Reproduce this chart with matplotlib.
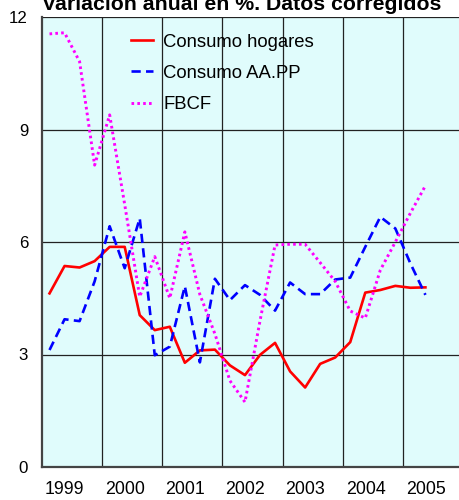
import matplotlib.pyplot as plt
import numpy as np

plt.rcParams['font.family'] = ['Liberation Sans', 'DejaVu Sans']

# trimestral, 1999T1 .. 2005T2
years = [1999, 2000, 2001, 2002, 2003, 2004, 2005]
hogares = [4.63, 5.36, 5.32, 5.49, 5.87, 5.87, 4.05, 3.65,
           3.74, 2.78, 3.11, 3.13, 2.71, 2.45, 2.99, 3.31,
           2.55, 2.12, 2.75, 2.92, 3.33, 4.65, 4.72, 4.83,
           4.78, 4.79]
aapp = [3.12, 3.94, 3.89, 4.95, 6.42, 5.30, 6.63, 2.98,
        3.21, 4.82, 2.79, 5.02, 4.45, 4.85, 4.59, 4.17,
        4.92, 4.61, 4.61, 5.00, 5.05, 5.87, 6.67, 6.36,
        5.43, 4.59]
fbcf = [11.55, 11.58, 10.81, 8.05, 9.39, 7.00, 4.54, 5.61,
        4.50, 6.27, 4.60, 3.55, 2.30, 1.73, 3.90, 5.92,
        5.94, 5.94, 5.45, 4.95, 4.16, 3.97, 5.25, 6.00,
        6.77, 7.50]

t = np.array([1999 + (i + 0.5) / 4 for i in range(len(hogares))])

fig = plt.figure(figsize=(4.59, 5.0), dpi=100)
ax = fig.add_axes([42 / 459, 33 / 500, 421 / 459, 450 / 500])
ax.set_facecolor('#e0fcfc')

ax.plot(t, hogares, color='#ff0000', lw=1.9, label='Consumo hogares')
ax.plot(t, aapp, color='#0000ff', lw=1.9, ls=(0, (3.5, 2)), label='Consumo AA.PP')
ax.plot(t, fbcf, color='#ff00ff', lw=2.1, ls=(0, (0.9, 1.1)), label='FBCF')

ax.set_xlim(1999, 2006)
ax.set_ylim(0, 12)
ax.set_yticks([0, 3, 6, 9, 12])
ax.set_xticks(years[1:])
ax.set_xticks([y + 0.38 for y in years], minor=True)
ax.set_xticklabels([])
ax.set_xticklabels([str(y) for y in years], minor=True)
ax.tick_params(axis='both', which='both', length=0)
ax.tick_params(axis='x', which='minor', pad=10, labelsize=12.8)
ax.tick_params(axis='y', pad=10, labelsize=12.2)
ax.grid(True, which='major', color='#222222', lw=0.9)

for s in ['top', 'right']:
    ax.spines[s].set_visible(False)
for s in ['left', 'bottom']:
    ax.spines[s].set_color('#444444')
    ax.spines[s].set_linewidth(1.6)

ax.legend(loc='upper left', bbox_to_anchor=(0.172, 1.0), frameon=False,
          fontsize=13.3, handlelength=1.2, handletextpad=0.55, labelspacing=0.77)

fig.text(242 / 459, 1.0 - 10 / 500, 'Variación anual en %. Datos corregidos',
         ha='center', va='baseline', fontsize=15.3, fontweight='bold')

fig.savefig('out.png', dpi=100)
